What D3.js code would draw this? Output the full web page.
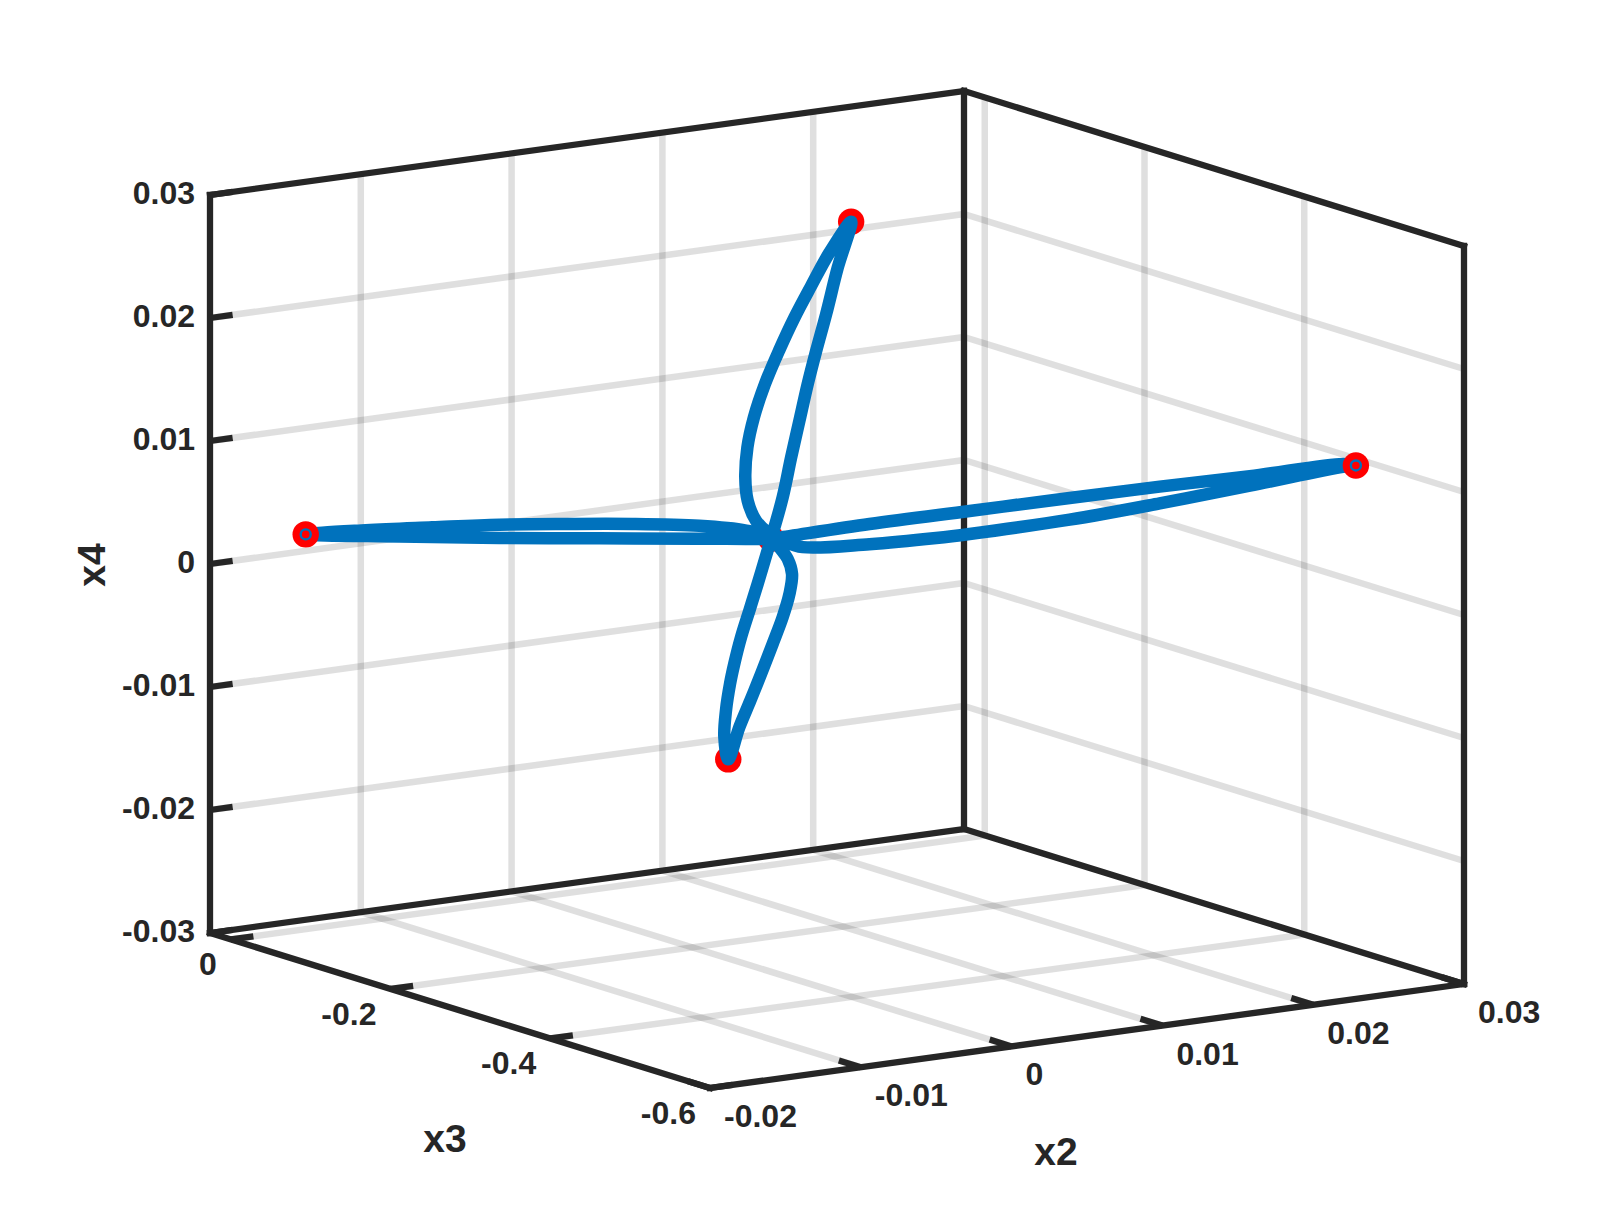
<!DOCTYPE html>
<html>
<head>
<meta charset="utf-8">
<style>
html,body{margin:0;padding:0;background:#fff;}
svg{display:block;}
text{font-family:"Liberation Sans",Arial,sans-serif;font-weight:bold;fill:#262626;}
</style>
<script src="https://cdn.jsdelivr.net/npm/d3@7/dist/d3.min.js"></script>
</head>
<body>
<svg id="chart" width="1619" height="1223"></svg>
<script>
// Axis limits and ticks
const x2Limits = [-0.02, 0.03];
const x3Limits = [0.026, -0.6];
const x4Limits = [-0.03, 0.03];
const x2Ticks = [-0.02, -0.01, 0, 0.01, 0.02, 0.03];
const x3Ticks = [0, -0.2, -0.4, -0.6];
const x4Ticks = [-0.03, -0.02, -0.01, 0, 0.01, 0.02, 0.03];

// Trajectory (closed tour through the four lobes)
const pathX2 = [-0.00006,0.00071,0.00127,0.00182,0.00237,0.00293,0.00359,0.00436,0.00525,
  0.00381,0.0026,0.00149,0.00046,-0.00047,-0.0012,-0.00163,-0.00177,-0.00161,-0.00106,-0.00017,
  0.00046,0.00118,0.00379,0.0064,0.00771,0.01163,0.01515,0.01868,0.02232,0.02283,
  0.02232,0.01868,0.01515,0.01163,0.00771,0.00379,0.00027,-0.00006,
  -0.00237,-0.00559,-0.0088,-0.01202,-0.01503,
  -0.01309,-0.01096,-0.0088,-0.00666,-0.00452,-0.00237,-0.00086,
  0.00003,0.00049,0.00104,0.00133,0.00116,0.00071,0.00005,-0.00072,-0.00143,-0.00216,-0.0029,
  -0.00316,-0.00305,-0.00278,-0.0025,-0.00205,-0.0015,-0.00095,-0.00029,-0.00006];
const pathX3 = [-0.3,-0.3,-0.3,-0.3,-0.3,-0.3,-0.3,-0.3,-0.3,
  -0.3,-0.3,-0.3,-0.3,-0.3,-0.3,-0.3,-0.3,-0.3,-0.3,-0.3,
  -0.3068,-0.3162,-0.3505,-0.3847,-0.4018,-0.4531,-0.4994,-0.5456,-0.5933,-0.6,
  -0.5933,-0.5456,-0.4994,-0.4531,-0.4018,-0.3505,-0.3043,-0.3,
  -0.2537,-0.1892,-0.1247,-0.0602,0,
  -0.0387,-0.0815,-0.1247,-0.1677,-0.2105,-0.2537,-0.2839,
  -0.3,-0.3,-0.3,-0.3,-0.3,-0.3,-0.3,-0.3,-0.3,-0.3,-0.3,
  -0.3,-0.3,-0.3,-0.3,-0.3,-0.3,-0.3,-0.3,-0.3];
const pathX4 = [0.00525,0.00848,0.01163,0.01452,0.01741,0.02001,0.02288,0.02653,0.03012,
  0.02785,0.02535,0.02296,0.02043,0.01788,0.0153,0.01293,0.01052,0.0086,0.00688,0.00566,
  0.00506,0.00468,0.00517,0.00592,0.00637,0.0079,0.00956,0.01133,0.01322,0.01337,
  0.01345,0.0121,0.01092,0.00966,0.00824,0.00681,0.00537,0.00525,
  0.00471,0.00398,0.00326,0.00262,0.00209,
  0.00288,0.00362,0.00434,0.0049,0.0054,0.00575,0.00572,
  0.00532,0.00446,0.00342,0.00215,0.00056,-0.00126,-0.00331,-0.00562,-0.00767,-0.00971,-0.01221,
  -0.01035,-0.0082,-0.00608,-0.00451,-0.00242,-0.00035,0.00173,0.00432,0.00525];

// Equilibrium markers
const behindX2 = [-0.00006, 0.00525, -0.0029];
const behindX3 = [-0.3, -0.3, -0.3];
const behindX4 = [0.00525, 0.03012, -0.01221];
const frontX2 = [-0.01503, 0.02283];
const frontX3 = [0, -0.6];
const frontX4 = [0.00209, 0.01337];

// Orthographic view of the axes box
const sx2 = d3.scaleLinear().domain(x2Limits).range([0, 1]);
const sx3 = d3.scaleLinear().domain(x3Limits).range([0, 1]);
const sx4 = d3.scaleLinear().domain(x4Limits).range([0, 1]);
const origin = [210, 933], vx2 = [754, -104], vx3 = [500, 155], vx4 = [0, -738];
const proj = (a, b, c) => {
  const p = sx2(a), q = sx3(b), r = sx4(c);
  return [origin[0] + p * vx2[0] + q * vx3[0] + r * vx4[0],
          origin[1] + p * vx2[1] + q * vx3[1] + r * vx4[1]];
};

const svg = d3.select("#chart");
const INK = "#262626", BLUE = "#0072BD", RED = "#FF0000";
const [a0, a1] = x2Limits, [b0, b1] = x3Limits, [c0, c1] = x4Limits;
const seg = (p, q) => "M" + p.join(",") + "L" + q.join(",");

// Grid
const grid = [];
x2Ticks.filter(t => t !== a0 && t !== a1).forEach(t => {
  grid.push(seg(proj(t, b0, c0), proj(t, b1, c0)));
  grid.push(seg(proj(t, b0, c0), proj(t, b0, c1)));
});
x3Ticks.filter(t => t !== b1).forEach(t => {
  grid.push(seg(proj(a0, t, c0), proj(a1, t, c0)));
  grid.push(seg(proj(a1, t, c0), proj(a1, t, c1)));
});
x4Ticks.filter(t => t !== c0 && t !== c1).forEach(t => {
  grid.push(seg(proj(a0, b0, t), proj(a1, b0, t)));
  grid.push(seg(proj(a1, b0, t), proj(a1, b1, t)));
});
svg.append("g").selectAll("path").data(grid).join("path")
  .attr("d", d => d).attr("fill", "none")
  .attr("stroke", INK).attr("stroke-opacity", 0.15).attr("stroke-width", 6.5);

// Box
const box = [
  seg(proj(a0, b0, c0), proj(a0, b0, c1)),
  seg(proj(a0, b0, c1), proj(a1, b0, c1)),
  seg(proj(a1, b0, c1), proj(a1, b1, c1)),
  seg(proj(a1, b1, c1), proj(a1, b1, c0)),
  seg(proj(a1, b1, c0), proj(a0, b1, c0)),
  seg(proj(a0, b1, c0), proj(a0, b0, c0)),
  seg(proj(a0, b0, c0), proj(a1, b0, c0)),
  seg(proj(a1, b0, c0), proj(a1, b1, c0)),
  seg(proj(a1, b0, c0), proj(a1, b0, c1))
];
svg.append("g").selectAll("path").data(box).join("path")
  .attr("d", d => d).attr("fill", "none").attr("stroke", INK)
  .attr("stroke-width", 6.3).attr("stroke-linecap", "square");

// Tick marks
const tickLen2 = 0.0015, tickLen3 = 0.0275;
const ticks = [];
x4Ticks.forEach(t => ticks.push(seg(proj(a0, b0, t), proj(a0 + tickLen2, b0, t))));
x3Ticks.forEach(t => ticks.push(seg(proj(a0, t, c0), proj(a0 + tickLen2, t, c0))));
x2Ticks.forEach(t => ticks.push(seg(proj(t, b1, c0), proj(t, b1 + tickLen3, c0))));
svg.append("g").selectAll("path").data(ticks).join("path")
  .attr("d", d => d).attr("fill", "none").attr("stroke", INK).attr("stroke-width", 6.3);

// Tick labels
const fmt = v => (v === 0 ? "0" : String(v));
const labels = svg.append("g").attr("font-size", 32);
x4Ticks.forEach(t => {
  const p = proj(a0, b0, t);
  labels.append("text").text(fmt(t)).attr("x", p[0] - 15).attr("y", p[1] - 2)
    .attr("text-anchor", "end").attr("dominant-baseline", "central");
});
x3Ticks.forEach(t => {
  const p = proj(a0, t, c0);
  labels.append("text").text(fmt(t)).attr("x", p[0] - 14).attr("y", p[1] + 25)
    .attr("text-anchor", "end").attr("dominant-baseline", "central");
});
x2Ticks.forEach(t => {
  const p = proj(t, b1, c0);
  labels.append("text").text(fmt(t)).attr("x", p[0] + 14).attr("y", p[1] + 28)
    .attr("text-anchor", "start").attr("dominant-baseline", "central");
});

// Axis titles
const title = (s, x, y, rot) => svg.append("text").text(s)
  .attr("font-size", 39).attr("text-anchor", "middle").attr("dominant-baseline", "central")
  .attr("transform", `translate(${x},${y})` + (rot ? ` rotate(${rot})` : ""));
title("x4", 91, 565, -90);
title("x3", 445, 1138);
title("x2", 1056, 1151);

// Markers that the line passes over
const dot = (g, a, b, c, i) => {
  const p = proj(a[i], b[i], c[i]);
  return g.append("circle").attr("cx", p[0]).attr("cy", p[1]);
};
const gBehind = svg.append("g");
behindX2.forEach((_, i) => dot(gBehind, behindX2, behindX3, behindX4, i).attr("r", 13.2).attr("fill", RED));

// Trajectory
const line = d3.line().curve(d3.curveCatmullRom.alpha(0.5));
svg.append("path")
  .attr("d", line(pathX2.map((_, i) => proj(pathX2[i], pathX3[i], pathX4[i]))))
  .attr("fill", "none").attr("stroke", BLUE).attr("stroke-width", 12.5)
  .attr("stroke-linejoin", "round").attr("stroke-linecap", "round");

// Markers drawn over the line
const gFront = svg.append("g");
frontX2.forEach((_, i) => {
  dot(gFront, frontX2, frontX3, frontX4, i).attr("r", 13.2).attr("fill", RED);
  dot(gFront, frontX2, frontX3, frontX4, i).attr("r", 5).attr("fill", RED)
    .attr("stroke", BLUE).attr("stroke-width", 2.4);
});
</script>
</body>
</html>
